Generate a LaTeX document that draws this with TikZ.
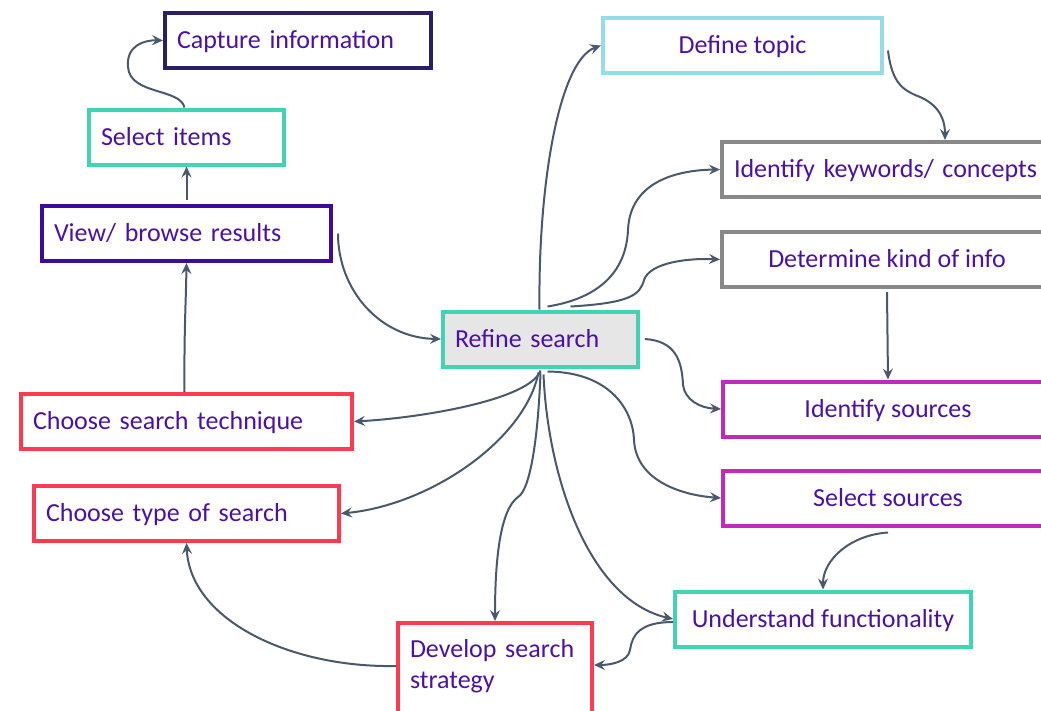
\documentclass[tikz,border=0pt]{standalone}
\usepackage{fontspec}
\setmainfont{Carlito}
\usetikzlibrary{arrows.meta}
\definecolor{cnavy}{HTML}{2B1F63}
\definecolor{cviol}{HTML}{3C0A9C}
\definecolor{cteal}{HTML}{41D4B2}
\definecolor{cred}{HTML}{FD3A4F}
\definecolor{cblue}{HTML}{93DCE8}
\definecolor{cgray}{HTML}{888888}
\definecolor{cmag}{HTML}{C22ABD}
\definecolor{ctxt}{HTML}{4A12A4}
\definecolor{cline}{HTML}{4A586C}
\definecolor{cfill}{HTML}{E6E6E6}
\tikzset{
  box/.style={draw, line width=4pt, inner xsep=12pt, inner ysep=0pt, minimum height=55pt,
    text height=19pt, text depth=3pt, text=ctxt, fill=white,
    font=\fontsize{26}{31}\selectfont},
  lbox/.style={box, align=left},
  cbox/.style={box},
  conn/.style={draw=cline, line width=2pt, -{Stealth[length=11pt,width=10pt,inset=4pt]}}
}
\begin{document}
\begin{tikzpicture}[x=1pt, y=-1pt]
\useasboundingbox (0,0) rectangle (1041,710);
\clip (0,0) rectangle (1041,710);
\fill[white] (0,0) rectangle (1041,710);
% nodes
\node[lbox, draw=cnavy, text width=242pt] (cap) at (298,40.5) {\mbox{Capture information}};
\node[lbox, draw=cteal, text width=171pt] (sel) at (186.5,137) {\mbox{Select items}};
\node[lbox, draw=cviol, text width=265pt] (view) at (186.5,233.5) {\mbox{View/ browse results}};
\node[lbox, draw=cteal, fill=cfill, text width=171pt] (ref) at (540.5,339) {\mbox{Refine search}};
\node[lbox, draw=cred, text width=307pt] (tech) at (186.5,421.5) {\mbox{Choose search technique}};
\node[lbox, draw=cred, text width=281pt] (type) at (186.5,513.5) {\mbox{Choose type of search}};
\node[lbox, draw=cred, text width=170pt, text height=34pt, text depth=60pt, anchor=north] (dev) at (495,621) {\mbox{Develop search}\\\mbox{strategy}};
\node[cbox, draw=cteal, minimum width=296pt] (und) at (823,619) {Understand functionality};
\node[cbox, draw=cmag, minimum width=330pt] (ssrc) at (888,498) {Select sources};
\node[cbox, draw=cmag, minimum width=330pt] (isrc) at (888,409) {Identify sources};
\node[cbox, draw=cgray, minimum width=330pt] (det) at (887,259.5) {Determine kind of info};
\node[lbox, draw=cgray, text width=306pt] (kw) at (887,169.5) {\mbox{Identify keywords/ concepts}};
\node[cbox, draw=cblue, minimum width=279pt] (def) at (742.5,45.5) {Define topic};
% connectors
\draw[conn] ([xshift=-2pt]sel.north) .. controls (180,88) and (130,95) .. (128,67) .. controls (126,45) and (145,40) .. (cap.west);
\draw[conn] ([yshift=4pt]view.north) -- (sel.south);
\draw[conn] ([xshift=-2pt]tech.north) .. controls (184,330) and (186,300) .. (view.south);
\draw[conn] ([xshift=5pt]view.east) .. controls (338,290) and (380,338) .. (ref.west);
\draw[conn] ([xshift=-1pt]ref.north) .. controls (538,180) and (560,60) .. (def.west);
\draw[conn] ([xshift=7pt,yshift=3pt]ref.north) .. controls (620,295) and (627,250) .. (628,230) .. controls (630,180) and (680,170) .. (kw.west);
\draw[conn] ([xshift=30pt,yshift=3pt]ref.north) .. controls (630,303) and (640,295) .. (644,280) .. controls (650,262) and (690,258) .. (det.west);
\draw[conn] ([xshift=4pt,yshift=-5pt]def.east) .. controls (892,85) and (905,90) .. (915,95) .. controls (935,102) and (945,115) .. ([xshift=58pt]kw.north);
\draw[conn] ([yshift=-3pt]det.south) -- (isrc.north);
\draw[conn] ([xshift=5pt]ref.east) .. controls (675,341) and (682,360) .. (683,385) .. controls (685,400) and (700,408) .. (isrc.west);
\draw[conn] ([xshift=7pt,yshift=-3pt]ref.south) .. controls (610,372) and (633,410) .. (634,440) .. controls (636,480) and (680,495) .. (ssrc.west);
\draw[conn] ([yshift=-5pt]ssrc.south) .. controls (850,535) and (823,560) .. (und.north);
\draw[conn] ([xshift=3pt,yshift=-6pt]ref.south) .. controls (548,480) and (590,600) .. (und.west);
\draw[conn] ([yshift=-3pt]und.west) .. controls (640,622) and (632,635) .. (630,650) .. controls (628,662) and (610,665) .. ([yshift=-44pt]dev.north east);
\draw[conn] ([yshift=-2pt]ref.south) .. controls (530,400) and (420,418) .. (tech.east);
\draw[conn] ([xshift=-2pt,yshift=-4pt]ref.south) .. controls (525,440) and (430,505) .. (type.east);
\draw[conn] ([yshift=-4pt]ref.south) .. controls (538,440) and (530,490) .. (518,497) .. controls (500,510) and (495,560) .. (dev.north);
\draw[conn] ([yshift=-45pt]dev.north west) .. controls (290,668) and (190,620) .. (type.south);
\end{tikzpicture}
\end{document}
